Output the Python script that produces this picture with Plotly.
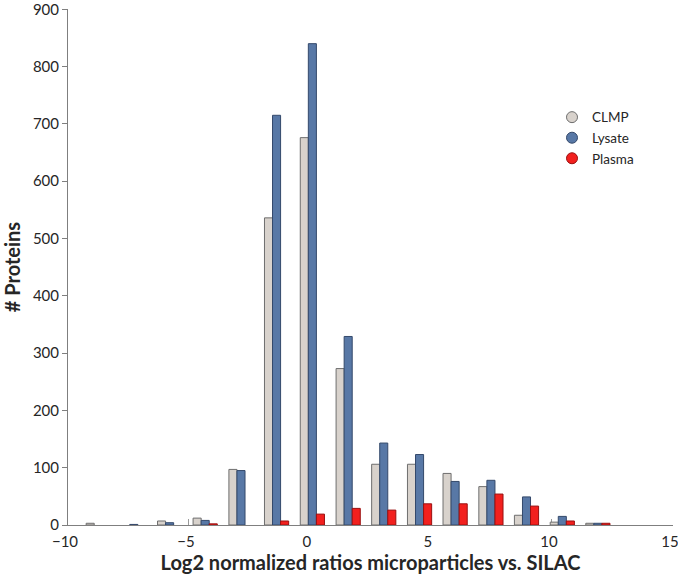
import plotly.graph_objects as go

# bin centres (log2 ratio)
bin_centers = [-8.75, -7.28, -5.80, -4.33, -2.85, -1.38, 0.10, 1.58, 3.05, 4.53, 6.00, 7.48, 8.95, 10.43, 11.90]

clmp   = [3, 0, 7, 12, 97, 536, 676, 273, 106, 106, 90, 67, 17, 5, 3]
lysate = [0, 1, 4, 8, 95, 715, 840, 329, 143, 123, 76, 78, 49, 15, 3]
plasma = [0, 0, 0, 2, 0, 7, 19, 29, 26, 37, 37, 54, 33, 7, 3]

series_names = ["CLMP", "Lysate", "Plasma"]
series_values = [clmp, lysate, plasma]
fill_colors = ["#d8d2cc", "#5878a6", "#f2201e"]
line_colors = ["#6e6e6e", "#34496b", "#9a1010"]

FONT = "Lato, 'Open Sans', sans-serif"

fig = go.Figure()
for name, vals, fc, lc in zip(series_names, series_values, fill_colors, line_colors):
    fig.add_trace(go.Bar(
        x=bin_centers, y=vals, name=name,
        marker=dict(color=fc, line=dict(color=lc, width=[0 if v == 0 else 1 for v in vals])),
        showlegend=False,
    ))
# legend entries drawn as circles
for name, fc, lc in zip(series_names, fill_colors, line_colors):
    fig.add_trace(go.Scatter(
        x=[None], y=[None], mode="markers", name=name,
        marker=dict(symbol="circle", size=11, color=fc, line=dict(color=lc, width=1)),
    ))

fig.update_layout(
    width=678, height=574,
    margin=dict(l=68, r=5, t=9, b=49),
    paper_bgcolor="white", plot_bgcolor="white",
    barmode="group", bargap=0.32, bargroupgap=0,
    font=dict(family=FONT, size=15, color="#262626"),
    legend=dict(
        x=0.80, y=0.82, xanchor="left", yanchor="top",
        bgcolor="rgba(0,0,0,0)", font=dict(size=13.5, color="#262626"),
        tracegroupgap=0, itemwidth=30,
    ),
    xaxis=dict(
        range=[-10, 15.005], tickvals=[-10, -5, 0, 5, 10, 15],
        ticktext=["\u221210", "\u22125", "0", "5", "10", "15"],
        showline=True, linecolor="#7f7f7f", linewidth=1,
        ticks="inside", ticklen=6, tickcolor="#9a9a9a",
        showgrid=False, zeroline=False, layer="below traces",
        automargin=False, ticklabeloverflow="allow", ticklabelshift=-3,
        ticklabelstandoff=3,
        tickfont=dict(size=15, color="#262626"),
        title=dict(text="<b>Log2 normalized ratios microparticles vs. SILAC</b>",
                   font=dict(size=20, color="#262626"), standoff=0),
    ),
    yaxis=dict(
        range=[0, 900.5], tickvals=[0, 100, 200, 300, 400, 500, 600, 700, 800, 900],
        showline=True, linecolor="#7f7f7f", linewidth=1,
        ticks="outside", ticklen=5, tickcolor="#7f7f7f",
        showgrid=False, zeroline=False, automargin=False,
        ticklabeloverflow="allow",
        tickfont=dict(size=15, color="#262626"),
        title=dict(text="<b># Proteins</b>", font=dict(size=20, color="#262626"), standoff=6),
    ),
)

fig.write_html("out.html", config={"displayModeBar": False},
               post_script="document.body.style.margin='0px';")
